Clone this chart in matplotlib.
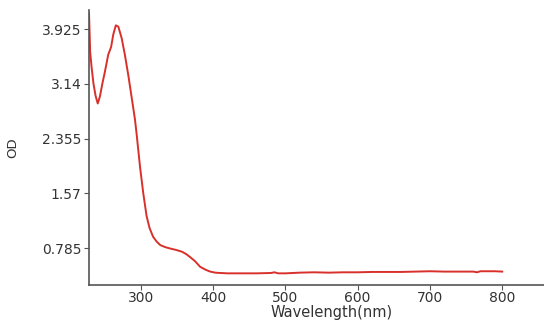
import matplotlib
matplotlib.use("Agg")
import matplotlib.pyplot as plt

# absorbance spectrum
wavelength = [228.4, 229, 230, 232, 234.5, 237.5, 240.5, 243.5, 247, 250.5, 255, 259, 262,
              265.5, 269, 273.5, 278, 283, 287.5, 292, 294.5, 299, 303.5, 308, 312, 317,
              322, 327, 334, 341, 349, 357, 363, 368, 375, 382, 389, 396, 403, 410, 420,
              440, 460, 480, 485, 490, 500, 520, 540, 560, 580, 600, 620, 640, 660, 680,
              700, 720, 740, 760, 765, 770, 780, 790, 800]
od = [4.15, 3.95, 3.6, 3.38, 3.15, 2.97, 2.86, 2.96, 3.15, 3.32, 3.56, 3.67, 3.85,
      3.98, 3.96, 3.80, 3.56, 3.25, 2.94, 2.63, 2.40, 1.95, 1.57, 1.25, 1.08, 0.95,
      0.88, 0.83, 0.80, 0.78, 0.76, 0.735, 0.70, 0.66, 0.60, 0.52, 0.48, 0.45, 0.435, 0.43, 0.425,
      0.425, 0.425, 0.43, 0.44, 0.425, 0.425, 0.435, 0.44, 0.435, 0.44, 0.44, 0.445, 0.445, 0.445,
      0.45, 0.455, 0.45, 0.45, 0.45, 0.44, 0.455, 0.455, 0.455, 0.45]

x_ticks = [300, 400, 500, 600, 700, 800]
y_ticks = [0.785, 1.57, 2.355, 3.14, 3.925]
y_labels = ["0.785", "1.57", "2.355", "3.14", "3.925"]

fig = plt.figure(figsize=(5.44, 3.2), dpi=100)
ax = fig.add_axes([0.1636, 0.1094, 0.8925, 0.8594])

ax.plot(wavelength, od, color="#d8302a", lw=1.4)

ax.set_xlim(228.4, 900)
ax.set_ylim(0.258, 4.2)
ax.set_xticks(x_ticks)
ax.set_yticks(y_ticks)
ax.set_yticklabels(y_labels)

for s in ["top", "right"]:
    ax.spines[s].set_visible(False)
for s in ["left", "bottom"]:
    ax.spines[s].set_color("#555555")
    ax.spines[s].set_linewidth(1.2)

ax.tick_params(axis="both", colors="#555555", labelcolor="#333333", labelsize=10, length=3.5)
ax.tick_params(axis="y", pad=2)
ax.tick_params(axis="x", pad=1)

ax.set_xlabel("Wavelength(nm)", fontsize=10.5, color="#333333", labelpad=0)
ax.set_ylabel("OD", fontsize=9.5, color="#333333", labelpad=16)

fig.savefig("out.png", dpi=100)
